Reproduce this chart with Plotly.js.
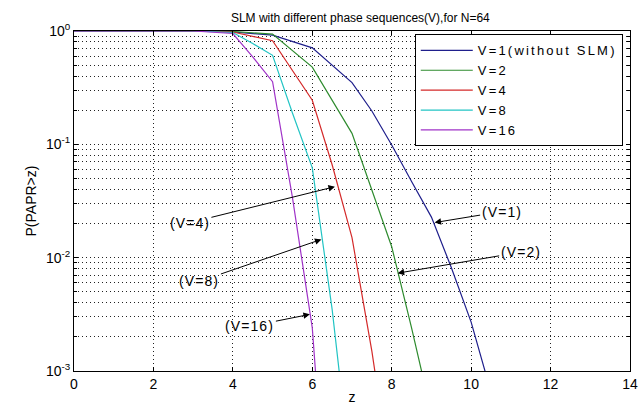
<!DOCTYPE html>
<html>
<head>
<meta charset="utf-8">
<script src="https://cdn.plot.ly/plotly-3.0.1.min.js"></script>
<style>
html,body{margin:0;padding:0;background:#fff;}
#chart{width:644px;height:405px;}
.legendtext{letter-spacing:2.2px;}
.annotation-text{letter-spacing:1.1px;}
</style>
</head>
<body>
<div id="chart"></div>
<script>
// Series: z values and CCDF P(PAPR>z)
const z1 = [0, 1, 2, 3, 4, 5, 6, 7, 7.5, 8, 8.5, 9, 9.5, 10, 10.5, 11];
const p1 = [1, 1, 1, 1, 0.98, 0.92, 0.71, 0.35, 0.197, 0.0986, 0.047, 0.0228, 0.0082, 0.0027, 0.00065, 0.0001];
const z2 = [0, 1, 2, 3, 4, 5, 6, 7, 7.5, 8, 8.5, 9];
const p2 = [1, 1, 1, 1, 0.99, 0.94, 0.48, 0.125, 0.04, 0.0125, 0.0024, 0.00042];
const z4 = [0, 1, 2, 3, 4, 5, 6, 6.5, 7, 7.5, 8];
const p4 = [1, 1, 1, 1, 0.98, 0.82, 0.245, 0.066, 0.015, 0.0015, 0.0001];
const z8 = [0, 1, 2, 3, 4, 4.5, 5, 5.5, 6, 6.5, 7];
const p8 = [1, 1, 1, 1, 0.97, 0.776, 0.61, 0.189, 0.062, 0.0035, 0.0001];
const z16 = [0, 1, 2, 3, 4, 4.5, 5, 5.5, 6, 6.5];
const p16 = [1, 1, 1, 1, 0.95, 0.59, 0.357, 0.034, 0.0024, 0.00001];

const seriesNames = ['V=1(without SLM)', 'V=2', 'V=4', 'V=8', 'V=16'];
const xTickVals = [0, 2, 4, 6, 8, 10, 12, 14];
const yTickVals = [0.001, 0.01, 0.1, 1];
const yTickText = ['10<sup>-3</sup>', '10<sup>-2</sup>', '10<sup>-1</sup>', '10<sup>0</sup>'];

// annotation labels and the points (z, P) their arrows point to
const annLabels = ['(V=1)', '(V=2)', '(V=4)', '(V=8)', '(V=16)'];
const annZ = [9.08, 8.15, 6.57, 6.23, 5.94];
const annP = [0.0204, 0.0073, 0.0423, 0.0145, 0.00316];

const colors = ['#1f1f8c', '#2e8b2e', '#d42a2a', '#22c4c4', '#a033c8'];
const xs = [z1, z2, z4, z8, z16];
const ys = [p1, p2, p4, p8, p16];

const traces = xs.map((x, i) => ({
  x: x, y: ys[i], type: 'scatter', mode: 'lines', name: seriesNames[i],
  line: {color: colors[i], width: 1.2}
}));

// minor log positions 2..9 in each decade
const yMinor = [];
yTickVals.slice(0, 3).forEach(d => { for (let m = 2; m <= 9; m++) yMinor.push(m * d); });

const fam = 'Arial, "Liberation Sans", sans-serif';
const font = {family: fam, size: 14, color: '#000'};
const offsets = [[67, -11], [123, -21], [-145, 36], [-122, 42], [-60, 12]];

const annotations = annLabels.map((t, i) => ({
  x: annZ[i], y: Math.log10(annP[i]), xref: 'x', yref: 'y',
  text: t, showarrow: true, arrowhead: 2, arrowsize: 1.3, arrowwidth: 1,
  arrowcolor: '#000', ax: offsets[i][0], ay: offsets[i][1],
  font: font
}));

const gridDash = '1px,3px';
const layout = {
  width: 644, height: 405,
  margin: {l: 74, r: 14, t: 31, b: 34},
  paper_bgcolor: '#fff', plot_bgcolor: '#fff',
  font: font,
  title: {text: 'SLM with different phase sequences(V),for N=64', font: {family: fam, size: 12, color: '#000'},
          x: 0.515, xanchor: 'center', xref: 'paper', y: 0.955, yanchor: 'middle'},
  showlegend: true,
  legend: {x: 0.987, xanchor: 'right', y: 0.99, yanchor: 'top', bgcolor: '#fff',
           bordercolor: '#000', borderwidth: 1, font: {family: fam, size: 13, color: '#000'},
           tracegroupgap: 0, itemwidth: 52},
  xaxis: {
    range: [0, 14], tickvals: xTickVals, ticks: 'inside', ticklen: 4, tickcolor: '#000',
    showline: true, linecolor: '#000', linewidth: 1, mirror: 'ticks',
    showgrid: true, gridcolor: '#222', gridwidth: 1, griddash: gridDash, zeroline: false,
    title: {text: 'z', font: font, standoff: 2},
    tickfont: font
  },
  yaxis: {
    type: 'log', range: [-3, 0], tickmode: 'array', tickvals: yTickVals, ticktext: yTickText,
    ticks: 'inside', ticklen: 4, tickcolor: '#000',
    showline: true, linecolor: '#000', linewidth: 1, mirror: 'ticks',
    showgrid: true, gridcolor: '#222', gridwidth: 1, griddash: gridDash, zeroline: false,
    minor: {tickmode: 'array', tickvals: yMinor, ticks: 'inside', ticklen: 3, tickcolor: '#000',
            showgrid: true, gridcolor: '#222', gridwidth: 1, griddash: gridDash},
    title: {text: 'P(PAPR>z)', font: font, standoff: 6},
    tickfont: font
  },
  annotations: annotations
};

Plotly.newPlot('chart', traces, layout, {staticPlot: true, displayModeBar: false});
</script>
</body>
</html>
